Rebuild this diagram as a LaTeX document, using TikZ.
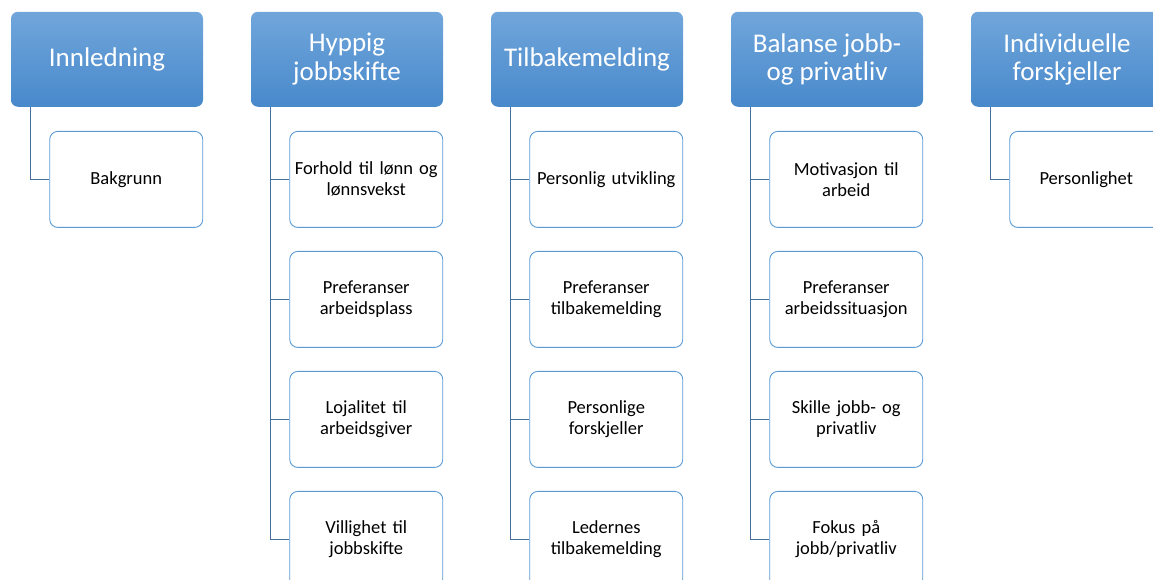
\documentclass[tikz,border=0pt]{standalone}
\usepackage{fontspec}
\setmainfont{Carlito}
\usetikzlibrary{positioning}

\definecolor{hdrtop}{RGB}{113,166,219}
\definecolor{hdrbot}{RGB}{72,137,203}
\definecolor{itemline}{RGB}{91,155,213}
\definecolor{linkline}{RGB}{65,113,156}

\begin{document}
\begin{tikzpicture}[x=1pt,y=-1pt,every node/.style={font=\fontsize{18.5}{21}\selectfont},
    header/.style={minimum width=192pt,minimum height=95pt,rounded corners=7pt,
      top color=hdrtop,bottom color=hdrbot,text=white,align=center,
      font=\fontsize{27}{28.5}\selectfont},
    item/.style={minimum width=153pt,minimum height=96pt,rounded corners=8pt,
      fill=white,draw=itemline,line width=0.9pt,align=center,text width=145pt},
    link/.style={draw=linkline,line width=1.1pt}]

    \clip (0,0) rectangle (1153,579);

    % top row
    \foreach \x/\n/\t in {11/INN/Innledning,251/HJ/Hyppig\\jobbskifte,491/TB/Tilbakemelding,
        731/BAL/Balanse jobb-\\og privatliv,971/IND/Individuelle\\forskjeller} {
      \node[header] (\n) at (\x+96,59.25) {\t};
    }

    % children
    \node[item] (INN1) [below left=24pt and 0pt of INN.south east] {Bakgrunn};
    \node[item] (IND1) [below left=24pt and 0pt of IND.south east] {Personlighet};

    \node[item] (HJ1) [below left=24pt and 0pt of HJ.south east] {Forhold til lønn og\\lønnsvekst};
    \node[item] (HJ2) [below=23.1pt of HJ1] {Preferanser\\arbeidsplass};
    \node[item] (HJ3) [below=23.1pt of HJ2] {Lojalitet til\\arbeidsgiver};
    \node[item] (HJ4) [below=23.1pt of HJ3] {Villighet til\\jobbskifte};

    \node[item] (TB1) [below left=24pt and 0pt of TB.south east] {Personlig utvikling};
    \node[item] (TB2) [below=23.1pt of TB1] {Preferanser\\tilbakemelding};
    \node[item] (TB3) [below=23.1pt of TB2] {Personlige\\forskjeller};
    \node[item] (TB4) [below=23.1pt of TB3] {Ledernes\\tilbakemelding};

    \node[item] (BAL1) [below left=24pt and 0pt of BAL.south east] {Motivasjon til\\arbeid};
    \node[item] (BAL2) [below=23.1pt of BAL1] {Preferanser\\arbeidssituasjon};
    \node[item] (BAL3) [below=23.1pt of BAL2] {Skille jobb- og\\privatliv};
    \node[item] (BAL4) [below=23.1pt of BAL3] {Fokus på\\jobb/privatliv};

    % connectors
    \path[link] ([xshift=19.5pt]INN.south west) |- (INN1.west);
    \path[link] ([xshift=19.5pt]IND.south west) |- (IND1.west);
    \foreach \n in {HJ,TB,BAL} {
      \foreach \i in {1,...,4} {
        \path[link] ([xshift=19.5pt]\n.south west) |- (\n\i.west);
      }
    }
\end{tikzpicture}
\end{document}
